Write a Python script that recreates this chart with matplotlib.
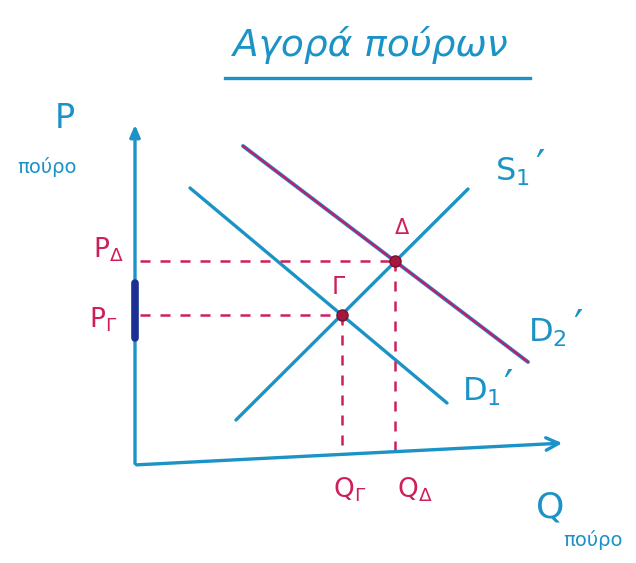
import numpy as np
import matplotlib
matplotlib.use("Agg")
import matplotlib.pyplot as plt

# ---- market data (quantity, price) ----
supply1_q = [4.04, 13.32]
supply1_p = [1.80, 11.04]
demand1_q = [2.20, 12.48]
demand1_p = [11.08, 2.48]
demand2_q = [4.32, 15.72]
demand2_p = [12.76, 4.12]

q_axis_end = 17.2
q_axis_end_p = 0.88      # the hand-drawn Q axis rises slightly to the right
p_axis_end = 13.72
price_band = [5.08, 7.28]  # highlighted segment on the price axis

title = "Αγορά πούρων"
good = "πούρο"

BLUE = "#1b93c6"
NAVY = "#1c2f95"
PINK = "#cf1f5a"
MAGENTA = "#c8186e"
DOT = "#a3183f"


def intersect(q1, p1, q2, p2):
    a1 = (p1[1] - p1[0]) / (q1[1] - q1[0])
    a2 = (p2[1] - p2[0]) / (q2[1] - q2[0])
    b1 = p1[0] - a1 * q1[0]
    b2 = p2[0] - a2 * q2[0]
    q = (b2 - b1) / (a1 - a2)
    return q, a1 * q + b1


fig = plt.figure(figsize=(6.36, 5.63), dpi=100)
ax = fig.add_axes([0, 0, 1, 1])
ax.set_xlim(-5.4, 20.04)
ax.set_ylim(-3.92, 18.6)
ax.axis("off")

# axes with arrowheads
ax.annotate("", xy=(0, p_axis_end), xytext=(0, -0.05),
            arrowprops=dict(arrowstyle="-|>,head_length=0.7,head_width=0.3",
                            color=BLUE, lw=2.4))
ax.annotate("", xy=(q_axis_end, q_axis_end_p), xytext=(-0.05, 0),
            arrowprops=dict(arrowstyle="->,head_length=0.9,head_width=0.45",
                            color=BLUE, lw=2.4))
ax.plot([0, 0], price_band, color=NAVY, lw=5.5, solid_capstyle="round", zorder=4)

# curves
ax.plot(supply1_q, supply1_p, color=BLUE, lw=2.4, solid_capstyle="round")
ax.plot(demand1_q, demand1_p, color=BLUE, lw=2.4, solid_capstyle="round")
ax.plot(demand2_q, demand2_p, color=BLUE, lw=2.8, solid_capstyle="round")
ax.plot(demand2_q, demand2_p, color=MAGENTA, lw=1.6, solid_capstyle="round")

# equilibria
qg, pg = intersect(supply1_q, supply1_p, demand1_q, demand1_p)
qd, pd = intersect(supply1_q, supply1_p, demand2_q, demand2_p)
for q, p in [(qg, pg), (qd, pd)]:
    ax.plot([0.2, q], [p, p], color=PINK, lw=1.8, ls=(0, (4, 4)))
    ax.plot([q, q], [p, q_axis_end_p * q / q_axis_end], color=PINK, lw=1.8,
            ls=(0, (4, 4)))
    ax.plot(q, p, "o", ms=8, color=DOT, mec="#7a1030", zorder=5)

# title with underline
ax.text(9.4, 16.8, title, color=BLUE, fontsize=27, ha="center", va="center",
        style="italic")
ax.plot([3.6, 15.8], [15.48, 15.48], color=BLUE, lw=2.4)

# axis titles
ax.text(-2.8, 13.88, "P", color=BLUE, fontsize=24, ha="center", va="center")
ax.text(-3.52, 11.92, good, color=BLUE, fontsize=14, ha="center", va="center")
ax.text(16.6, -1.72, "Q", color=BLUE, fontsize=26, ha="center", va="center")
ax.text(18.3, -3.0, good, color=BLUE, fontsize=14, ha="center", va="center")

# curve labels, each followed by a large prime mark
curve_labels = [
    (r"$\mathregular{S_1}$", (15.1, 11.72), (16.2, 11.88)),
    (r"$\mathregular{D_2}$", (16.5, 5.28), (17.72, 5.48)),
    (r"$\mathregular{D_1}$", (13.85, 2.92), (14.92, 3.08)),
]
for txt, (lq, lp), (mq, mp) in curve_labels:
    ax.text(lq, lp, txt, color=BLUE, fontsize=23, ha="center", va="center")
    ax.text(mq, mp, "′", color=BLUE, fontsize=30, ha="center", va="center")

# price / quantity labels
ax.text(-1.08, 8.6, r"$\mathregular{P_\Delta}$", color=PINK, fontsize=19,
        ha="center", va="center")
ax.text(-1.28, 5.8, r"$\mathregular{P_\Gamma}$", color=PINK, fontsize=19,
        ha="center", va="center")
ax.text(8.6, -1.0, r"$\mathregular{Q_\Gamma}$", color=PINK, fontsize=19,
        ha="center", va="center")
ax.text(11.2, -1.0, r"$\mathregular{Q_\Delta}$", color=PINK, fontsize=19,
        ha="center", va="center")
ax.text(8.12, 7.12, "Γ", color=PINK, fontsize=17, ha="center", va="center")
ax.text(10.68, 9.48, "Δ", color=PINK, fontsize=15, ha="center", va="center")

fig.savefig("out.png", dpi=100)
